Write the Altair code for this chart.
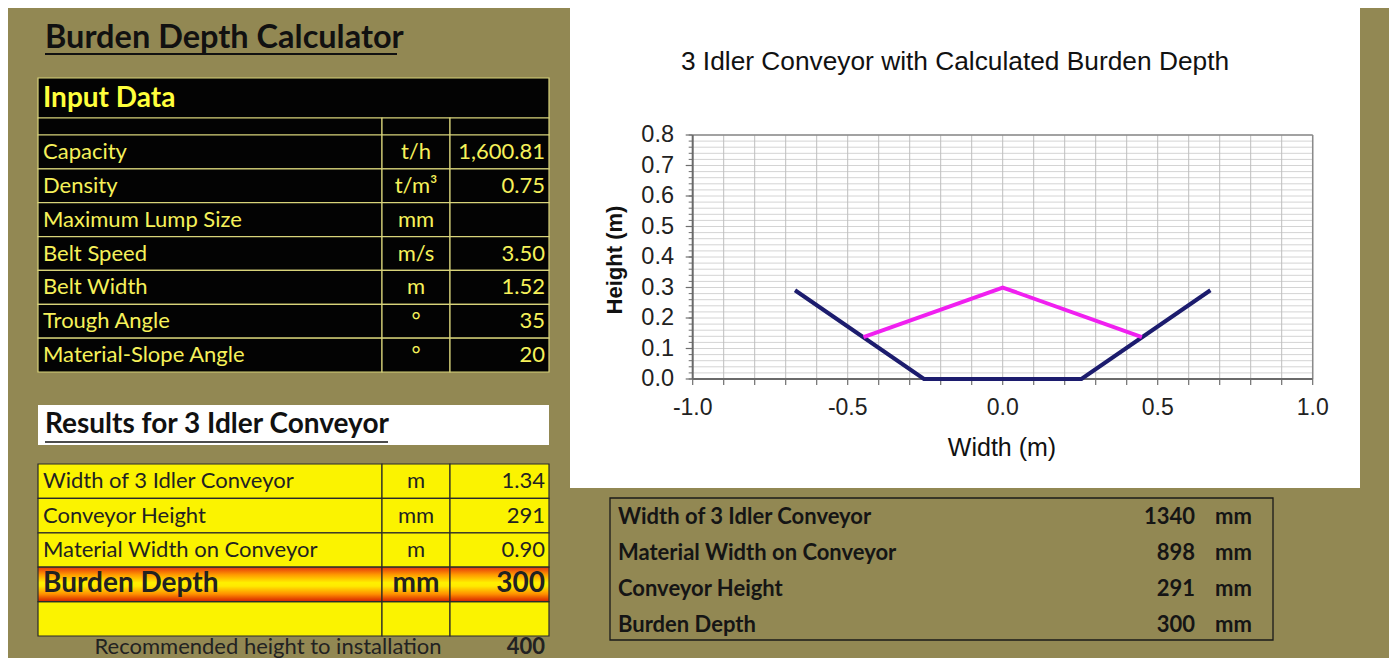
import altair as alt
import pandas as pd

# ---------------- data ----------------
TITLE = "Burden Depth Calculator"
INPUT_HEADER = "Input Data"
input_labels = ["Capacity", "Density", "Maximum Lump Size", "Belt Speed",
                "Belt Width", "Trough Angle", "Material-Slope Angle"]
input_units = ["t/h", "t/m³", "mm", "m/s", "m", "°", "°"]
input_values = ["1,600.81", "0.75", "", "3.50", "1.52", "35", "20"]

RESULTS_HEADER = "Results for 3 Idler Conveyor"
result_labels = ["Width of 3 Idler Conveyor", "Conveyor Height",
                 "Material Width on Conveyor", "Burden Depth", ""]
result_units = ["m", "mm", "m", "mm", ""]
result_values = ["1.34", "291", "0.90", "300", ""]
RECOMMENDED_LABEL = "Recommended height to installation"
RECOMMENDED_VALUE = "400"

summary_labels = ["Width of 3 Idler Conveyor", "Material Width on Conveyor",
                  "Conveyor Height", "Burden Depth"]
summary_values = ["1340", "898", "291", "300"]
summary_units = ["mm", "mm", "mm", "mm"]

CHART_TITLE = "3 Idler Conveyor with Calculated Burden Depth"
X_TITLE = "Width (m)"
Y_TITLE = "Height (m)"
belt_x = [-0.67, -0.254, 0.254, 0.67]
belt_y = [0.291, 0.0, 0.0, 0.291]
material_x = [-0.449, 0.0, 0.449]
material_y = [0.137, 0.300, 0.137]
x_tick_values = [-1.0, -0.5, 0.0, 0.5, 1.0]
x_tick_labels = ["-1.0", "-0.5", "0.0", "0.5", "1.0"]
y_tick_values = [0.0, 0.1, 0.2, 0.3, 0.4, 0.5, 0.6, 0.7, 0.8]
y_tick_labels = ["0.0", "0.1", "0.2", "0.3", "0.4", "0.5", "0.6", "0.7", "0.8"]
x_grid = [round(-1.0 + 0.1 * i, 2) for i in range(21)]
y_grid = [round(0.02 * i, 2) for i in range(41)]

# ---------------- styles / layout ----------------
OLIVE = "#928853"
YEL_TXT = "#F6F15A"
YEL_BORDER = "#D8D37A"
RES_FILL = "#FBF300"
DARK = "#222222"
CAL = "Lato"
ARIAL = "Liberation Sans"
M = 8  # page margin


def P(v):
    return v - M


one = pd.DataFrame({"k": [0]})


def box(x0, x1, y0, y1, **kw):
    return alt.Chart(one).mark_rect(**kw).encode(
        x=alt.value(P(x0)), x2=alt.value(P(x1)),
        y=alt.value(P(y0)), y2=alt.value(P(y1)))


def txt(text, x, y, **kw):
    kw.setdefault("baseline", "middle")
    return alt.Chart(one).mark_text(text=text, **kw).encode(
        x=alt.value(P(x)), y=alt.value(P(y)))


def hline(x0, x1, y, color, w):
    return alt.Chart(one).mark_rule(color=color, strokeWidth=w).encode(
        x=alt.value(P(x0)), x2=alt.value(P(x1)), y=alt.value(P(y)))


def band(n, y0, y1):
    return alt.Y("r:O", axis=None,
                 scale=alt.Scale(domain=list(range(n)), range=[P(y0), P(y1)],
                                 paddingInner=0, paddingOuter=0))


layers = []

# ---------- left title ----------
layers.append(txt(TITLE, 45, 38, font=CAL, fontSize=32.5, fontWeight="bold",
                  color="#111111", align="left"))
layers.append(hline(45, 397, 54, "#111111", 2))

# ---------- input table ----------
COLS = [(38, 382), (382, 450), (450, 549)]
layers.append(box(38, 549, 78, 118, fill="#030303", stroke=YEL_BORDER, strokeWidth=1.2))
layers.append(txt(INPUT_HEADER, 43, 99, font=CAL, fontSize=28, fontWeight="bold",
                  color="#FFFF3C", align="left"))
for x0, x1 in COLS:
    layers.append(box(x0, x1, 118, 135, fill="#030303", stroke=YEL_BORDER, strokeWidth=1.2))

df_in = pd.DataFrame({"r": range(len(input_labels)), "label": input_labels,
                      "unit": input_units, "value": input_values})
YB_IN = band(len(input_labels), 135, 372)
for x0, x1 in COLS:
    layers.append(alt.Chart(df_in).mark_rect(fill="#030303", stroke=YEL_BORDER, strokeWidth=1.2)
                  .encode(y=YB_IN, x=alt.value(P(x0)), x2=alt.value(P(x1))))
layers.append(alt.Chart(df_in).mark_text(align="left", baseline="middle", font=CAL,
                                         fontSize=22, color=YEL_TXT)
              .encode(y=YB_IN, x=alt.value(P(43)), text="label:N"))
layers.append(alt.Chart(df_in).mark_text(align="center", baseline="middle", font=CAL,
                                         fontSize=22, color=YEL_TXT)
              .encode(y=YB_IN, x=alt.value(P(416)), text="unit:N"))
layers.append(alt.Chart(df_in).mark_text(align="right", baseline="middle", font=CAL,
                                         fontSize=22, color=YEL_TXT)
              .encode(y=YB_IN, x=alt.value(P(545)), text="value:N"))

# ---------- results ----------
layers.append(box(38, 549, 405, 445, fill="#FFFFFF"))
layers.append(txt(RESULTS_HEADER, 45, 425, font=CAL, fontSize=28, fontWeight="bold",
                  color="#111111", align="left"))
layers.append(hline(45, 388, 442, "#111111", 1.5))

df_res = pd.DataFrame({"r": range(len(result_labels)), "label": result_labels,
                       "unit": result_units, "value": result_values})
df_res["bold"] = df_res["label"] == "Burden Depth"
YB_RES = band(len(result_labels), 464, 636)
grad = alt.LinearGradient(
    gradient="linear",
    stops=[alt.GradientStop(color="#E4360C", offset=0),
           alt.GradientStop(color="#FF9A00", offset=0.22),
           alt.GradientStop(color="#FFF000", offset=0.45),
           alt.GradientStop(color="#FFEA00", offset=0.55),
           alt.GradientStop(color="#FF9000", offset=0.78),
           alt.GradientStop(color="#D41E00", offset=1)],
    x1=0, x2=0, y1=0, y2=1)
for x0, x1 in COLS:
    layers.append(alt.Chart(df_res[~df_res["bold"]]).mark_rect(fill=RES_FILL, stroke="#2A2A2A", strokeWidth=1.2)
                  .encode(y=YB_RES, x=alt.value(P(x0)), x2=alt.value(P(x1))))
    layers.append(alt.Chart(df_res[df_res["bold"]]).mark_rect(fill=grad, stroke="#2A2A2A", strokeWidth=1.2)
                  .encode(y=YB_RES, x=alt.value(P(x0)), x2=alt.value(P(x1))))
for sub, size, weight in [(df_res[~df_res["bold"]], 22, "normal"),
                          (df_res[df_res["bold"]], 28, "bold")]:
    layers.append(alt.Chart(sub).mark_text(align="left", baseline="middle", font=CAL,
                                           fontSize=size, fontWeight=weight, color=DARK)
                  .encode(y=YB_RES, x=alt.value(P(43)), text="label:N"))
    layers.append(alt.Chart(sub).mark_text(align="center", baseline="middle", font=CAL,
                                           fontSize=size, fontWeight=weight, color=DARK)
                  .encode(y=YB_RES, x=alt.value(P(416)), text="unit:N"))
    layers.append(alt.Chart(sub).mark_text(align="right", baseline="middle", font=CAL,
                                           fontSize=size, fontWeight=weight, color=DARK)
                  .encode(y=YB_RES, x=alt.value(P(545)), text="value:N"))

layers.append(txt(RECOMMENDED_LABEL, 268, 647, font=CAL, fontSize=22, color=DARK, align="center"))
layers.append(txt(RECOMMENDED_VALUE, 545, 647, font=CAL, fontSize=22, fontWeight="bold",
                  color=DARK, align="right"))

# ---------- chart box ----------
layers.append(alt.Chart(one).mark_rect(fill="#FFFFFF").encode(
    x=alt.value(P(570)), x2=alt.value(P(1360)), y=alt.value(0), y2=alt.value(P(488))))
layers.append(txt(CHART_TITLE, 955, 62, font=ARIAL, fontSize=26.3, color="#111111", align="center"))

XS = alt.Scale(domain=[-1, 1], range=[P(692.7), P(1312.7)], nice=False, zero=False)
YS = alt.Scale(domain=[0, 0.8], range=[P(379), P(135)], nice=False, zero=False)
PX0, PX1, PY0, PY1 = 692.7, 1312.7, 135, 379

df_xg = pd.DataFrame({"g": x_grid})
df_yg = pd.DataFrame({"g": y_grid})
layers.append(alt.Chart(df_yg).mark_rule(color="#D4D4D4", strokeWidth=1).encode(
    y=alt.Y("g:Q", scale=YS, axis=None), x=alt.value(P(PX0)), x2=alt.value(P(PX1))))
layers.append(alt.Chart(df_xg).mark_rule(color="#BEBEBE", strokeWidth=1).encode(
    x=alt.X("g:Q", scale=XS, axis=None), y=alt.value(P(PY0)), y2=alt.value(P(PY1))))
# plot border (top/right)
layers.append(hline(PX0, PX1, PY0, "#8A8A8A", 1.5))
layers.append(alt.Chart(one).mark_rule(color="#8A8A8A", strokeWidth=1.5).encode(
    x=alt.value(P(PX1)), y=alt.value(P(PY0)), y2=alt.value(P(PY1))))
# ticks
layers.append(alt.Chart(df_xg).mark_rule(color="#6E6E6E", strokeWidth=1.2).encode(
    x=alt.X("g:Q", scale=XS, axis=None), y=alt.value(P(PY1)), y2=alt.value(P(PY1 + 6))))
layers.append(alt.Chart(df_yg).mark_rule(color="#6E6E6E", strokeWidth=1).encode(
    y=alt.Y("g:Q", scale=YS, axis=None), x=alt.value(P(PX0 - 4)), x2=alt.value(P(PX0))))
df_yt = pd.DataFrame({"v": y_tick_values, "lab": y_tick_labels})
df_xt = pd.DataFrame({"v": x_tick_values, "lab": x_tick_labels})
layers.append(alt.Chart(df_yt).mark_rule(color="#6E6E6E", strokeWidth=1.2).encode(
    y=alt.Y("v:Q", scale=YS, axis=None), x=alt.value(P(PX0 - 7)), x2=alt.value(P(PX0))))
# axis lines
layers.append(hline(PX0, PX1, PY1, "#6A6A6A", 2))
layers.append(alt.Chart(one).mark_rule(color="#6A6A6A", strokeWidth=2).encode(
    x=alt.value(P(PX0)), y=alt.value(P(PY0)), y2=alt.value(P(PY1))))
# tick labels
layers.append(alt.Chart(df_xt).mark_text(font=ARIAL, fontSize=23, color="#222222",
                                         align="center", baseline="middle").encode(
    x=alt.X("v:Q", scale=XS, axis=None), y=alt.value(P(408)), text="lab:N"))
layers.append(alt.Chart(df_yt).mark_text(font=ARIAL, fontSize=23.5, color="#222222",
                                         align="right", baseline="middle").encode(
    y=alt.Y("v:Q", scale=YS, axis=None), x=alt.value(P(674)), text="lab:N"))
# axis titles
layers.append(txt(X_TITLE, 1002, 448, font=ARIAL, fontSize=25, color="#111111", align="center"))
layers.append(txt(Y_TITLE, 615, 260, font=ARIAL, fontSize=22, fontWeight="bold",
                  color="#111111", align="center", angle=270))

# series
df_belt = pd.DataFrame({"i": range(len(belt_x)), "x": belt_x, "y": belt_y})
df_mat = pd.DataFrame({"i": range(len(material_x)), "x": material_x, "y": material_y})
layers.append(alt.Chart(df_belt).mark_line(color="#1C1C6E", strokeWidth=4).encode(
    x=alt.X("x:Q", scale=XS, axis=None), y=alt.Y("y:Q", scale=YS, axis=None), order="i:O"))
layers.append(alt.Chart(df_mat).mark_line(color="#F020F0", strokeWidth=4).encode(
    x=alt.X("x:Q", scale=XS, axis=None), y=alt.Y("y:Q", scale=YS, axis=None), order="i:O"))

# ---------- summary table ----------
layers.append(box(610, 1273, 498, 640, fillOpacity=0, stroke="#1A1A1A", strokeWidth=1.3))
df_sum = pd.DataFrame({"r": range(len(summary_labels)), "label": summary_labels,
                       "value": summary_values, "unit": summary_units})
YB_SUM = band(len(summary_labels), 499, 643)
for field, xpos, al in [("label", 618, "left"), ("value", 1195, "right"), ("unit", 1215, "left")]:
    layers.append(alt.Chart(df_sum).mark_text(font=CAL, fontSize=22, fontWeight="bold",
                                              color="#151515", align=al, baseline="middle")
                  .encode(y=YB_SUM, x=alt.value(P(xpos)), text=f"{field}:N"))

chart = alt.layer(*layers).resolve_scale(x="independent", y="independent").properties(
    width=1381, height=650, background=OLIVE, padding=0,
    autosize=alt.AutoSizeParams(type="none"),
).configure_view(stroke=None)

chart.save("out.html", embed_options={"renderer": "svg", "actions": False})
